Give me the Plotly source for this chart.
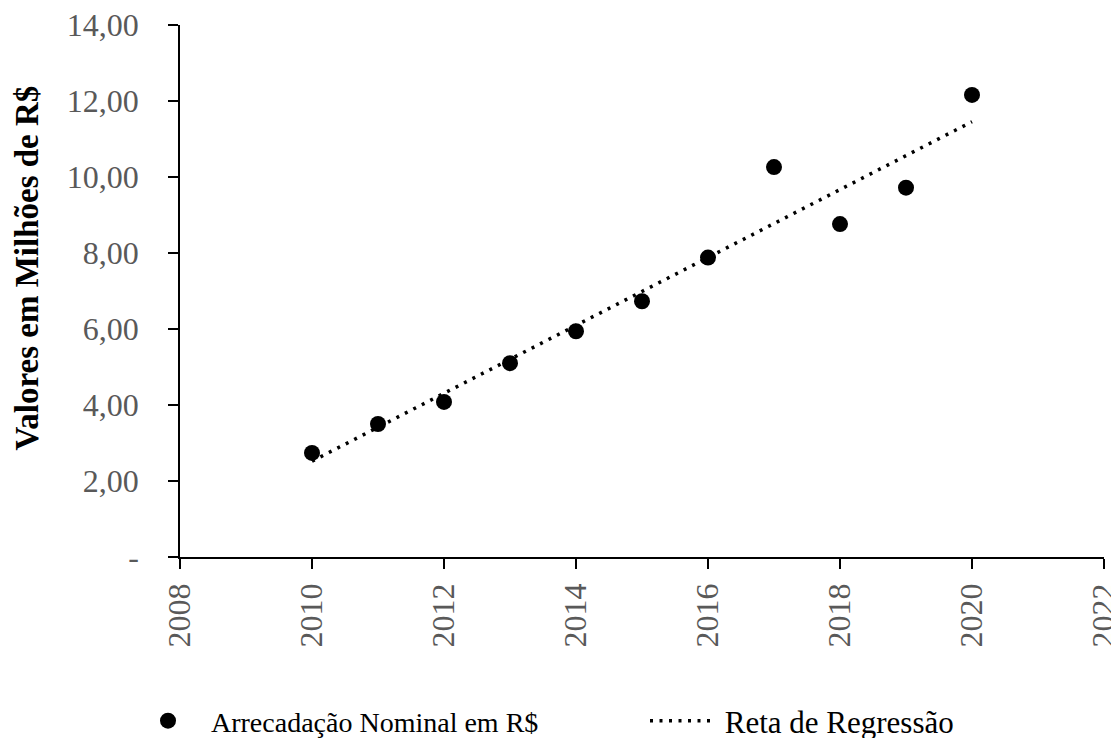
import numpy as np
import plotly.graph_objects as go

years = [2010, 2011, 2012, 2013, 2014, 2015, 2016, 2017, 2018, 2019, 2020]
arrecadacao = [2.74, 3.50, 4.08, 5.10, 5.94, 6.73, 7.88, 10.26, 8.76, 9.72, 12.16]

y_tickvals = [0, 2, 4, 6, 8, 10, 12, 14]
y_ticktext = ["-", "2,00", "4,00", "6,00", "8,00", "10,00", "12,00", "14,00"]
x_tickvals = [2008, 2010, 2012, 2014, 2016, 2018, 2020, 2022]
y_title = "Valores em Milhões de R$"
series_name = "Arrecadação Nominal em R$"
reg_name = "Reta de Regressão"

slope, intercept = np.polyfit(years, arrecadacao, 1)
reg_x = [years[0], years[-1]]
reg_y = [slope * x + intercept for x in reg_x]

fig = go.Figure()
fig.add_trace(go.Scatter(
    x=years, y=arrecadacao, mode="markers",
    name="\u00a0" + series_name,
    marker=dict(color="black", size=16),
    legend="legend",
))
fig.add_trace(go.Scatter(
    x=reg_x, y=reg_y, mode="lines",
    name="\u00a0" + reg_name,
    line=dict(color="black", width=3.5, dash="3px,6.5px"),
    legend="legend2",
))

tick_font = dict(family="Liberation Serif", size=32, color="#595959")

# page body adds an 8px offset; plot area placed so it lands at the reference spot
L, T, PW, PH = 172, 17, 924, 532
LEG_Y = 1 - 713 / 738

fig.update_layout(
    width=1119, height=738,
    paper_bgcolor="white", plot_bgcolor="white",
    margin=dict(l=L, r=1119 - L - PW, t=T, b=738 - T - PH, autoexpand=False),
    showlegend=True,
    legend=dict(
        orientation="h", xref="container", yref="container",
        x=124 / 1119, xanchor="left", y=LEG_Y, yanchor="middle",
        font=dict(family="Liberation Serif", size=28, color="black"),
        itemwidth=62, bgcolor="rgba(0,0,0,0)",
    ),
    legend2=dict(
        orientation="h", xref="container", yref="container",
        x=637 / 1119, xanchor="left", y=LEG_Y, yanchor="middle",
        font=dict(family="Liberation Serif", size=31, color="black"),
        itemwidth=62, bgcolor="rgba(0,0,0,0)",
    ),
    xaxis=dict(
        range=[2008, 2022], tickvals=x_tickvals, tickangle=-90,
        showline=True, linecolor="black", linewidth=1.5,
        ticks="outside", ticklen=10, tickcolor="black", tickwidth=1.5,
        showgrid=False, zeroline=False, tickfont=tick_font,
        ticklabelstandoff=2, automargin=False, ticklabeloverflow="allow",
    ),
    yaxis=dict(
        range=[0, 14], tickvals=y_tickvals, ticktext=y_ticktext,
        showline=True, linecolor="black", linewidth=1.5,
        ticks="outside", ticklen=10, tickcolor="black", tickwidth=1.5,
        showgrid=False, zeroline=False, tickfont=tick_font,
        ticklabelstandoff=23, automargin=False, ticklabeloverflow="allow",
    ),
    annotations=[dict(
        text="<b>" + y_title + "</b>", textangle=-90,
        xref="paper", yref="paper", x=(18 - L) / PW, y=(T + PH - 260.5) / PH,
        xanchor="center", yanchor="middle", showarrow=False,
        font=dict(family="Liberation Serif", size=33, color="black"),
    )],
)

fig.write_html("out.html")
